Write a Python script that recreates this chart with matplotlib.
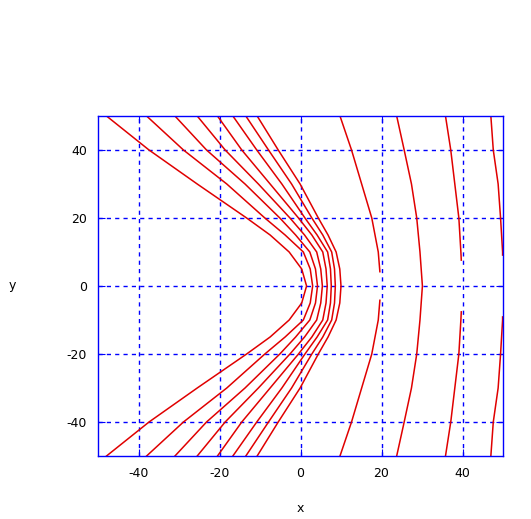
import numpy as np
import matplotlib
matplotlib.use("Agg")
import matplotlib.pyplot as plt

plt.rcParams['axes.unicode_minus'] = False

# upper half of each contour (mirrored for y < 0)
y_in = [0, 5, 10, 15, 20, 30, 40, 50]
inner_x = [
    [1.5, 0.3, -2.8, -7.5, -13.3, -25.5, -37.4, -47.9],
    [3.0, 2.4, 0.7, -3.8, -8.8, -18.2, -28.9, -38.0],
    [4.2, 3.7, 2.3, -1.2, -5.1, -13.7, -23.2, -31.0],
    [5.4, 5.0, 4.0, 1.0, -2.6, -10.4, -18.6, -25.5],
    [6.6, 6.3, 5.5, 2.8, -0.5, -7.5, -14.5, -20.5],
    [7.6, 7.4, 6.7, 4.1, 1.1, -4.6, -10.8, -16.7],
    [8.6, 8.4, 7.7, 5.5, 2.8, -2.2, -7.9, -13.5],
    [10.0, 9.7, 8.8, 6.8, 4.4, -0.1, -5.5, -10.7],
]

# outer contours, some with a gap near y = 0
outer_y = [
    [4.2, 10, 20, 30, 40, 50],
    [0, 10, 20, 30, 40, 50],
    [7.6, 10, 20, 30, 40, 50],
    [9.1, 10, 20, 30, 40, 50],
]
outer_x = [
    [19.6, 19.2, 17.6, 15.1, 12.6, 9.75],
    [30.1, 29.5, 28.7, 27.4, 25.6, 23.75],
    [39.7, 39.6, 39.1, 38.1, 37.1, 35.8],
    [49.9, 49.9, 49.4, 48.8, 47.6, 47.0],
]

ticks = [-40, -20, 0, 20, 40]

fig = plt.figure(figsize=(5.31, 5.19), dpi=100)
ax = fig.add_axes([98 / 531, 1 - 456 / 519, 405 / 531, 340 / 519])

# inner curves: mirror the upper half to get the full branch
yy = np.array(y_in, dtype=float)
for xs in inner_x:
    xs = np.array(xs)
    ax.plot(np.concatenate([xs[::-1], xs[1:]]),
            np.concatenate([-yy[::-1], yy[1:]]),
            color='#e00000', lw=1.1)

# outer curves
for ys, xs in zip(outer_y, outer_x):
    ys = np.array(ys, dtype=float)
    xs = np.array(xs)
    if ys[0] == 0:
        ax.plot(np.concatenate([xs[::-1], xs[1:]]),
                np.concatenate([-ys[::-1], ys[1:]]),
                color='#e00000', lw=1.1)
    else:
        ax.plot(xs, ys, color='#e00000', lw=1.1)
        ax.plot(xs, -ys, color='#e00000', lw=1.1)

ax.set_xlim(-50, 50)
ax.set_ylim(-50, 50)
ax.set_xticks(ticks)
ax.set_yticks(ticks)
ax.grid(True, color='blue', linestyle=(0, (3, 3)), linewidth=1)
for s in ax.spines.values():
    s.set_color('blue')
    s.set_linewidth(1)
ax.tick_params(direction='in', top=True, right=True, color='blue',
               length=5, labelsize=9, pad=8)

ax.set_xlabel("x", fontsize=9)
ax.xaxis.set_label_coords(0.5, -0.135)
ax.set_ylabel("y", fontsize=9, rotation=0, va='center')
ax.yaxis.set_label_coords((12 - 98) / 405, 0.5)

plt.savefig("out.png", dpi=100)
